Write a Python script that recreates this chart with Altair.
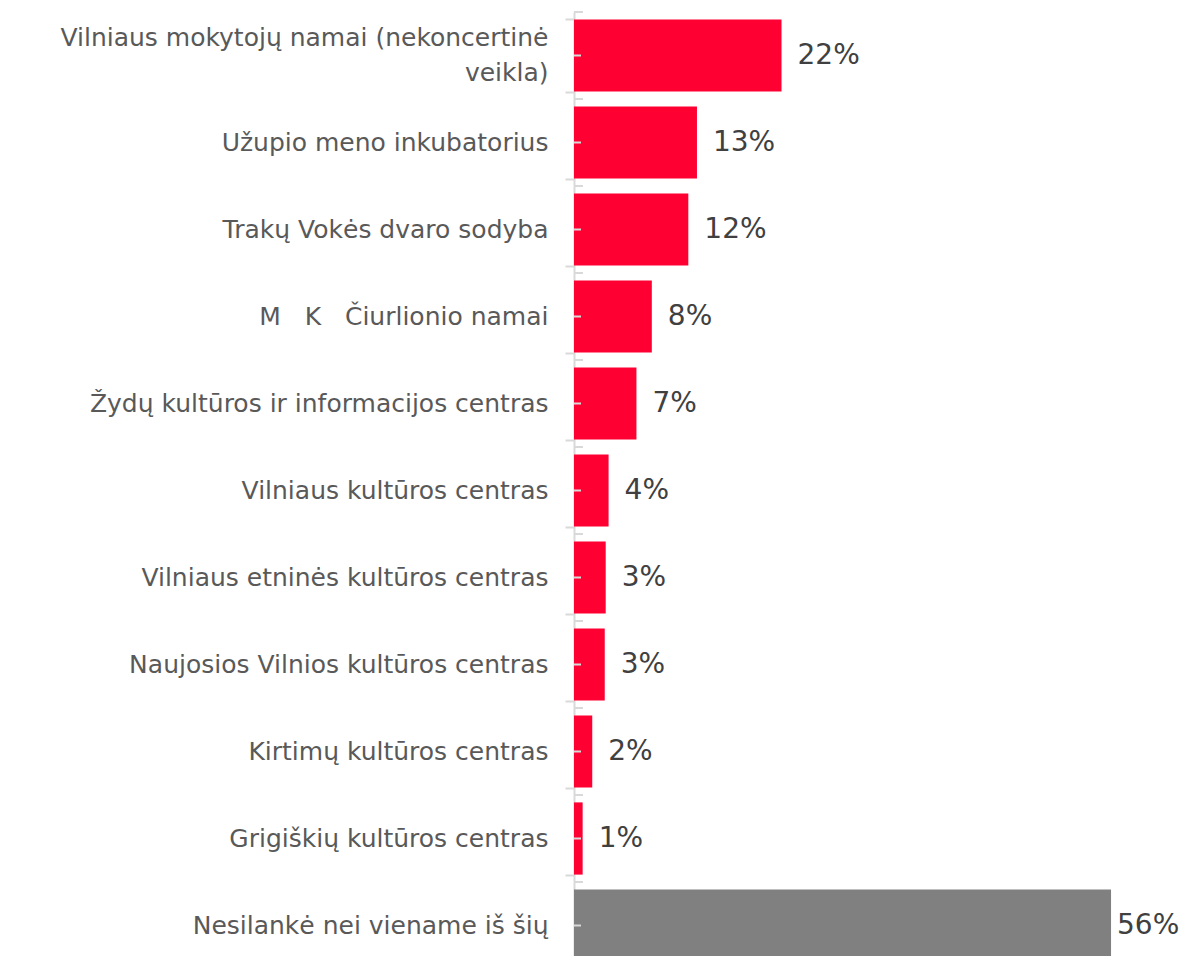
import altair as alt
import pandas as pd

categories = [
    "Vilniaus mokytojų namai (nekoncertinė veikla)",
    "Užupio meno inkubatorius",
    "Trakų Vokės dvaro sodyba",
    "M\u00a0\u00a0\u00a0K\u00a0\u00a0\u00a0Čiurlionio namai",
    "Žydų kultūros ir informacijos centras",
    "Vilniaus kultūros centras",
    "Vilniaus etninės kultūros centras",
    "Naujosios Vilnios kultūros centras",
    "Kirtimų kultūros centras",
    "Grigiškių kultūros centras",
    "Nesilankė nei viename iš šių",
]
values = [21.6, 12.8, 11.9, 8.1, 6.5, 3.6, 3.3, 3.2, 1.9, 0.9, 55.9]
value_labels = ["22%", "13%", "12%", "8%", "7%", "4%", "3%", "3%", "2%", "1%", "56%"]
groups = ["venue"] * 10 + ["none"]

df = pd.DataFrame({"cat": categories, "val": values, "lbl": value_labels, "grp": groups})

FONT = "DejaVu Sans"
WRAP = "Vilniaus mokytojų namai (nekoncertinė veikla)"

label_expr = (
    f"datum.label == '{WRAP}' ? "
    "['Vilniaus mokytojų namai (nekoncertinė', 'veikla)'] : datum.label"
)

ysc = alt.Scale(domain=categories, paddingInner=0.17, paddingOuter=0.085)

y = alt.Y(
    "cat:N",
    sort=categories,
    title=None,
    scale=ysc,
    axis=alt.Axis(
        labelExpr=label_expr,
        labelFont=FONT,
        labelFontSize=25,
        labelColor="#595959",
        labelPadding=17,
        labelLineHeight=35,
        labelLimit=700,
        labelOffset={"condition": {"test": f"datum.value == '{WRAP}'", "value": -18}, "value": 0},
        tickBand="extent",
        tickSize=9,
        tickColor="#D9D9D9",
        tickWidth=2,
        domainColor="#D9D9D9",
        domainWidth=2,
        grid=False,
    ),
)

x = alt.X("val:Q", title=None, axis=None, scale=alt.Scale(domain=[0, 56]))

bars = alt.Chart(df).mark_bar().encode(
    x=x,
    y=y,
    color=alt.Color(
        "grp:N",
        scale=alt.Scale(domain=["venue", "none"], range=["#FF0033", "#808080"]),
        legend=None,
    ),
)

# right-hand halves of the boundary ticks and small centre ticks
edge_ticks = alt.Chart(df).mark_rule(color="#D9D9D9", strokeWidth=2, yOffset=-7.4).encode(
    y=alt.Y("cat:N", sort=categories, bandPosition=0),
    x=alt.value(0),
    x2=alt.value(9),
)
mid_ticks = alt.Chart(df).mark_rule(color="#D9D9D9", strokeWidth=2).encode(
    y=alt.Y("cat:N", sort=categories),
    x=alt.value(0),
    x2=alt.value(7),
)

text_main = alt.Chart(df).transform_filter("datum.grp == 'venue'").mark_text(
    align="left", baseline="middle", dx=16, font=FONT, fontSize=28, color="#404040"
).encode(x=x, y=alt.Y("cat:N", sort=categories), text="lbl:N")

text_last = alt.Chart(df).transform_filter("datum.grp == 'none'").mark_text(
    align="left", baseline="middle", dx=6, font=FONT, fontSize=28, color="#404040"
).encode(x=x, y=alt.Y("cat:N", sort=categories), text="lbl:N")

chart = (
    alt.layer(bars, edge_ticks, mid_ticks, text_main, text_last)
    .properties(
        width=538,
        height=957,
        autosize=alt.AutoSizeParams(type="none"),
        padding={"left": 566, "top": 4, "right": 67, "bottom": -13},
    )
    .configure_view(stroke=None)
)

chart.save("out.html", embed_options={"renderer": "svg", "actions": False})
